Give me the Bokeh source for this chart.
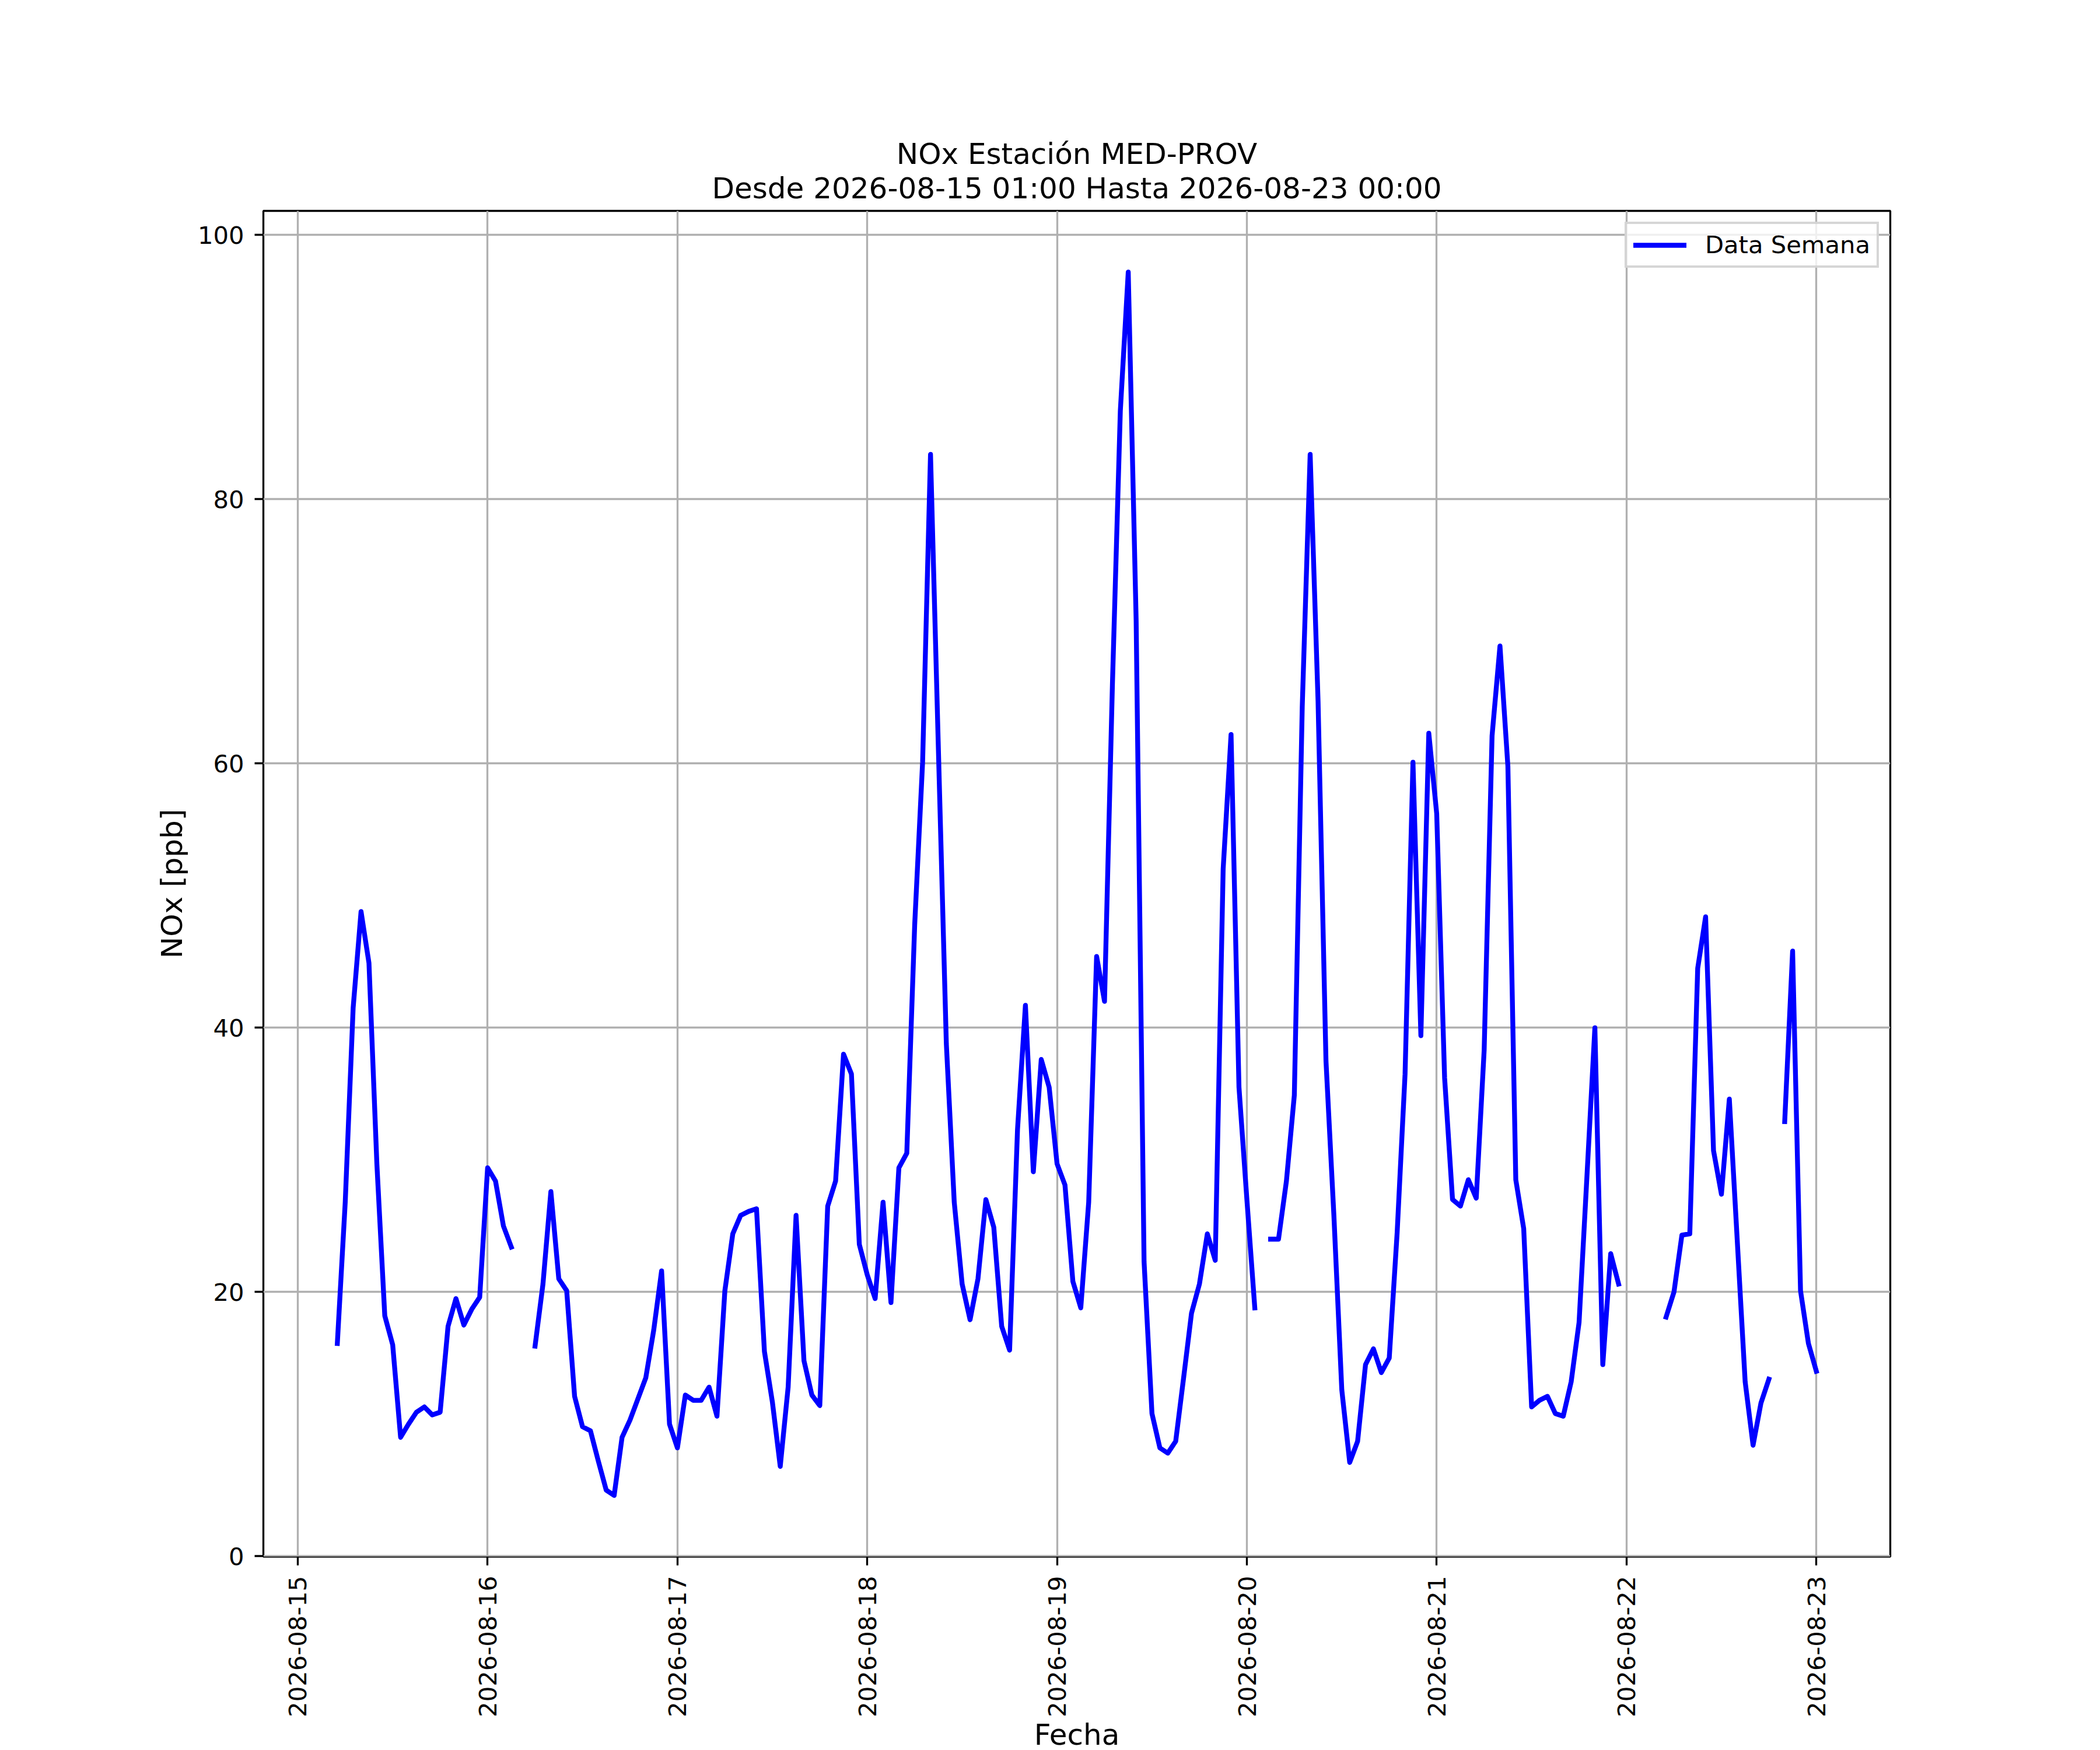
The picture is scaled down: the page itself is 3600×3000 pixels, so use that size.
import math
import numpy as np
import pandas as pd
from bokeh.plotting import figure
from bokeh.models import (ColumnDataSource, Range1d, FixedTicker,
                          DatetimeTickFormatter, Title)
from bokeh.embed import file_html
from bokeh.resources import INLINE

nan = float("nan")

# ---------------- data (hourly NOx, ppb) ----------------
START = "2026-08-15 01:00"
# 2026-08-15, hours 01..23
day15 = [nan, nan, nan, nan, 16.1, 26.8, 41.5, 48.8, 44.9, 29.7, 18.2, 16.0,
         9.0, 10.0, 10.9, 11.3, 10.7, 10.9, 17.4, 19.5, 17.5, 18.7, 19.6]
# 2026-08-16, hours 00..23
day16 = [29.4, 28.4, 25.0, 23.4, nan, nan, 15.9, 20.6, 27.6, 21.0, 20.1, 12.1,
         9.8, 9.5, 7.2, 5.0, 4.6, 9.0, 10.3, 11.9, 13.5, 17.1, 21.6, 10.0]
day17 = [8.2, 12.2, 11.8, 11.8, 12.8, 10.6, 20.1, 24.4, 25.8, 26.1, 26.3, 15.5,
         11.7, 6.8, 12.8, 25.8, 14.8, 12.2, 11.4, 26.5, 28.4, 38.0, 36.5, 23.6]
day18 = [21.3, 19.5, 26.8, 19.2, 29.4, 30.5, 47.8, 60.1, 83.4, 61.0, 38.8, 26.8,
         20.6, 17.9, 21.0, 27.0, 24.9, 17.4, 15.6, 32.3, 41.7, 29.1, 37.6, 35.5]
day19 = [29.7, 28.1, 20.8, 18.8, 26.8, 45.4, 42.0, 66.0, 86.7, 97.2, 70.8, 22.3,
         10.8, 8.2, 7.8, 8.7, 13.5, 18.4, 20.6, 24.4, 22.4, 52.0, 62.2, 35.5]
day20 = [27.0, 18.8, nan, 24.0, 24.0, 28.4, 34.9, 64.3, 83.4, 64.7, 37.5, 25.8,
         12.6, 7.1, 8.7, 14.5, 15.7, 13.9, 15.0, 24.5, 36.5, 60.1, 39.4, 62.3]
day21 = [56.2, 36.2, 27.0, 26.5, 28.5, 27.1, 38.3, 62.1, 68.9, 59.8, 28.5, 24.8,
         11.3, 11.8, 12.1, 10.8, 10.6, 13.2, 17.7, 28.8, 40.0, 14.5, 22.9, 20.6]
day22 = [nan, nan, nan, nan, nan, 18.1, 20.0, 24.3, 24.4, 44.5, 48.4, 30.7,
         27.4, 34.6, 23.9, 13.2, 8.4, 11.6, 13.4, nan, 32.9, 45.8, 20.1, 16.1]
# 2026-08-23, hour 00
day23 = [14.0]

nox = day15 + day16 + day17 + day18 + day19 + day20 + day21 + day22 + day23
times = pd.date_range(START, periods=len(nox), freq="h")

tick_dates = pd.date_range("2026-08-15", "2026-08-23", freq="D")
y_ticks = [0, 20, 40, 60, 80, 100]

TITLE_1 = "NOx Estación MED-PROV"
TITLE_2 = "Desde 2026-08-15 01:00 Hasta 2026-08-23 00:00"
SERIES = "Data Semana"
X_LABEL = "Fecha"
Y_LABEL = "NOx [ppb]"

# ---------------- ranges (matplotlib-like 5% margins) ----------------
arr = np.array(nox, dtype=float)
valid = ~np.isnan(arr)
t0, t1 = times[valid][0], times[valid][-1]
tspan = t1 - t0
ymin, ymax = np.nanmin(arr), np.nanmax(arr)
yspan = ymax - ymin

FONT = "DejaVu Sans"
LW = 8.33
THIN = 3.33

p = figure(frame_width=2789, frame_height=2307, x_axis_type="datetime",
           output_backend="svg", toolbar_location=None, title=None,
           x_range=Range1d(t0 - 0.05 * tspan, t1 + 0.05 * tspan),
           y_range=Range1d(ymin - 0.05 * yspan, ymax + 0.05 * yspan),
           min_border_left=451, min_border_right=344,
           min_border_top=361, min_border_bottom=300)

src = ColumnDataSource(dict(t=times, v=arr))
p.line("t", "v", source=src, line_color="#0000ff", line_width=LW,
       line_join="round", line_cap="square", legend_label=SERIES)

# ticks
xt = FixedTicker(ticks=[d.value / 1e6 for d in tick_dates])
p.xaxis.ticker = xt
p.xgrid.ticker = xt
fmt = "%Y-%m-%d"
p.xaxis.formatter = DatetimeTickFormatter(
    microseconds=fmt, milliseconds=fmt, seconds=fmt, minsec=fmt, minutes=fmt,
    hourmin=fmt, hours=fmt, days=fmt, months=fmt, years=fmt)
p.xaxis.major_label_orientation = math.pi / 2
yt = FixedTicker(ticks=y_ticks)
p.yaxis.ticker = yt
p.ygrid.ticker = yt

for ax in (p.xaxis, p.yaxis):
    ax.axis_line_color = None
    ax.major_tick_out = 15
    ax.major_tick_in = 0
    ax.major_tick_line_width = THIN
    ax.major_tick_line_color = "black"
    ax.minor_tick_line_color = None
    ax.major_label_text_font = FONT
    ax.major_label_text_font_size = "41.7px"
    ax.major_label_text_color = "black"
    ax.axis_label_text_font = FONT
    ax.axis_label_text_font_size = "50px"
    ax.axis_label_text_font_style = "normal"
    ax.axis_label_text_color = "black"
p.xaxis.major_label_standoff = 18
p.yaxis.major_label_standoff = 18
p.xaxis.axis_label = X_LABEL
p.yaxis.axis_label = Y_LABEL
p.xaxis.axis_label_standoff = -2
p.yaxis.axis_label_standoff = 12

for g in (p.xgrid, p.ygrid):
    g.grid_line_color = "#b0b0b0"
    g.grid_line_width = THIN

p.outline_line_color = "black"
p.outline_line_width = THIN
p.outline_line_alpha = 1.0
p.background_fill_color = "white"
p.border_fill_color = "white"

# title: two centred lines (second line closest to the frame)
p.add_layout(Title(text=TITLE_2, align="center", text_font=FONT,
                   text_font_size="50px", text_font_style="normal",
                   standoff=20, text_color="black"), "above")
p.add_layout(Title(text=TITLE_1, align="center", text_font=FONT,
                   text_font_size="50px", text_font_style="normal",
                   standoff=-22, text_color="black"), "above")

# legend
lg = p.legend[0]
lg.location = "top_right"
lg.margin = 19
lg.padding = 11
lg.spacing = 0
lg.glyph_width = 91
lg.glyph_height = 40
lg.label_standoff = 32
lg.label_text_font = FONT
lg.label_text_font_size = "41.7px"
lg.label_text_color = "black"
lg.border_line_color = "#cccccc"
lg.border_line_width = 4
lg.border_line_alpha = 0.8
lg.background_fill_color = "white"
lg.background_fill_alpha = 0.8

open("out.html", "w").write(file_html(p, INLINE))
